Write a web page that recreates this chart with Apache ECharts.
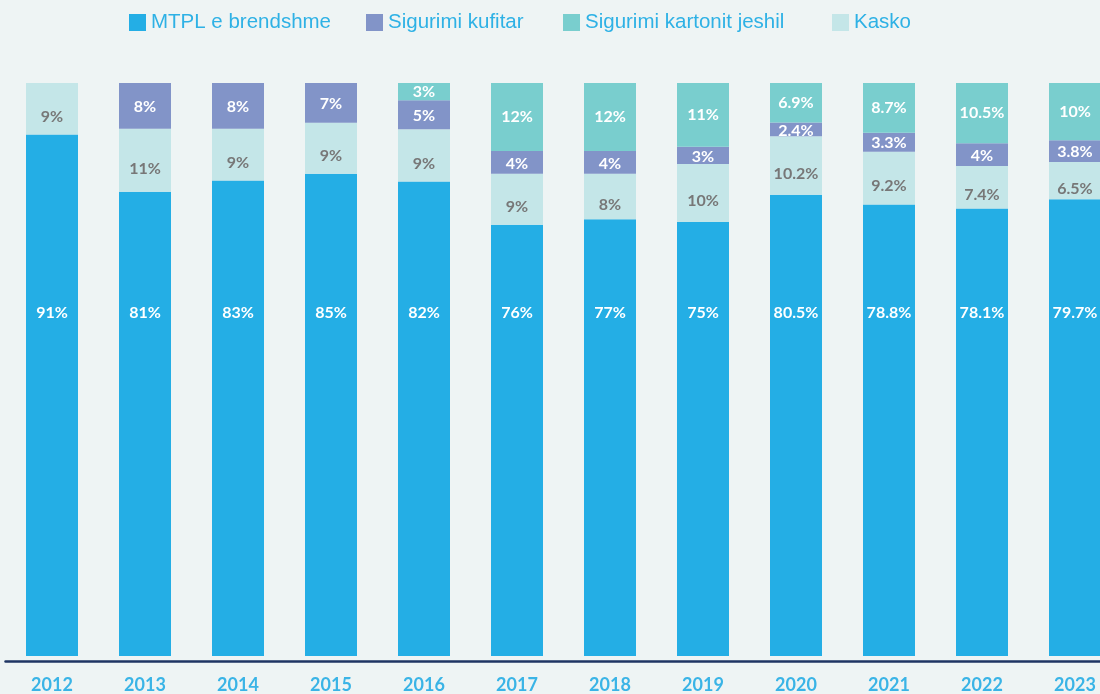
<!DOCTYPE html>
<html>
<head>
<meta charset="utf-8">
<script src="https://cdn.jsdelivr.net/npm/echarts@6/dist/echarts.min.js"></script>
<style>
  html,body{margin:0;padding:0;background:#eef4f4;}
  #chart{width:1100px;height:694px;}
</style>
</head>
<body>
<div id="chart"></div>
<script>
var years=['2012','2013','2014','2015','2016','2017','2018','2019','2020','2021','2022','2023'];
var mtpl=[91,81,83,85,82,76,77,75,80.5,78.8,78.1,79.7];
var kasko=[9,11,9,9,9,9,8,10,10.2,9.2,7.4,6.5];
var kufitar=[0,8,8,7,5,4,4,3,2.4,3.3,4,3.8];
var karton=[0,0,0,0,3,12,12,11,6.9,8.7,10.5,10];
var legendNames=['MTPL e brendshme','Sigurimi kufitar','Sigurimi kartonit jeshil','Kasko'];

// bars are drawn as shares of each year's total, labels keep the printed values
var totals=years.map(function(y,i){return mtpl[i]+kasko[i]+kufitar[i]+karton[i];});
function share(arr){return arr.map(function(v,i){return v/totals[i]*100;});}
function lbl(arr){return function(p){var v=arr[p.dataIndex];return v?v+'%':'';};}

var labelFont={fontFamily:'Lato',fontWeight:'bold',fontSize:16};

// one legend per item so the spacing follows the original layout
var legendLeft=[129,366,563,832];
var legends=legendNames.map(function(n,i){
    return {
        data:[n],left:legendLeft[i],top:12,padding:0,
        itemWidth:17,itemHeight:17,icon:'rect',
        textStyle:{color:'#2eb1e5',fontSize:20.5,fontFamily:'Liberation Sans'}
    };
});

var myChart=echarts.init(document.getElementById('chart'));
var option={
    backgroundColor:'#eef4f4',
    animation:false,
    legend:legends,
    grid:{left:5.5,width:1116,top:83,bottom:33,outerBoundsMode:'none'},
    xAxis:{
        type:'category',
        data:years,
        axisLine:{onZero:false,lineStyle:{color:'#1f3563',width:2.5}},
        axisTick:{show:false},
        axisLabel:{color:'#3ab4e6',fontSize:18,fontWeight:'bold',fontFamily:'Lato',margin:15}
    },
    // small gap under zero leaves room between the bars and the axis line
    yAxis:{type:'value',min:-0.87,max:100,show:false,splitLine:{show:false}},
    series:[
        {
            name:'MTPL e brendshme',type:'bar',stack:'t',barWidth:52,
            itemStyle:{color:'#24aee5'},
            data:share(mtpl),
            label:Object.assign({show:true,position:'insideBottom',distance:335,color:'#ffffff',formatter:lbl(mtpl)},labelFont)
        },
        {
            name:'Kasko',type:'bar',stack:'t',
            itemStyle:{color:'#c4e6e8'},
            data:share(kasko),
            label:Object.assign({show:true,position:'inside',offset:[0,8],color:'#777777',formatter:lbl(kasko)},labelFont)
        },
        {
            name:'Sigurimi kufitar',type:'bar',stack:'t',
            itemStyle:{color:'#8294c8'},
            data:share(kufitar),
            label:Object.assign({show:true,position:'inside',offset:[0,1],color:'#ffffff',formatter:lbl(kufitar)},labelFont)
        },
        {
            name:'Sigurimi kartonit jeshil',type:'bar',stack:'t',
            itemStyle:{color:'#79cece'},
            data:share(karton),
            label:Object.assign({show:true,position:'inside',color:'#ffffff',formatter:lbl(karton)},labelFont)
        }
    ]
};
myChart.setOption(option);
</script>
</body>
</html>
